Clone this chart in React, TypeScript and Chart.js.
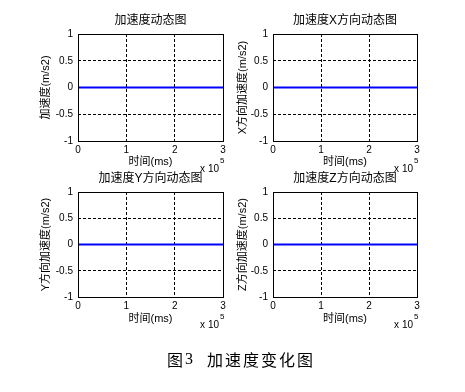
import React, { useEffect, useRef } from 'react';
import { Chart, registerables } from 'chart.js';

Chart.register(...registerables);

// ---- data ----
const timeMs = [0, 50000, 100000, 150000, 200000, 250000, 300000];
const accTotal = [0, 0, 0, 0, 0, 0, 0];
const accX = [0, 0, 0, 0, 0, 0, 0];
const accY = [0, 0, 0, 0, 0, 0, 0];
const accZ = [0, 0, 0, 0, 0, 0, 0];
const xTickLabels = ['0', '1', '2', '3'];
const yTickLabels = ['-1', '-0.5', '0', '0.5', '1'];
const subplotTitles = ['加速度动态图', '加速度X方向动态图', '加速度Y方向动态图', '加速度Z方向动态图'];
const yAxisTitles = ['加速度(m/s2)', 'X方向加速度(m/s2)', 'Y方向加速度(m/s2)', 'Z方向加速度(m/s2)'];
const xAxisTitle = '时间(ms)';
const xExponentBase = 'x 10';
const xExponent = '5';
const captionLead = '图';
const captionNum = '3';
const captionText = '加速度变化图';

const FONT = '"Liberation Sans", Arial, "Noto Sans CJK SC", sans-serif';
const CJK = '"Noto Sans CJK SC", sans-serif';

const W = 240;
const H = 180;

const overlayPlugin = {
  id: 'matlabOverlay',
  afterDraw(chart: any, _args: any, opts: any) {
    const { ctx, chartArea: a } = chart;
    ctx.save();
    ctx.setLineDash([]);
    ctx.strokeStyle = '#000';
    ctx.lineWidth = 1;
    ctx.strokeRect(a.left + 0.5, a.top + 0.5, a.right - a.left, a.bottom - a.top);
    ctx.fillStyle = '#000';
    ctx.font = `12px ${FONT}`;
    ctx.textAlign = 'center';
    ctx.textBaseline = 'middle';
    ctx.fillText(opts.title, (a.left + a.right) / 2, 21);
    ctx.font = `10px ${FONT}`;
    ctx.textAlign = 'right';
    ctx.fillText(xExponentBase, a.right - 4, a.bottom + 28);
    ctx.font = `8px ${FONT}`;
    ctx.textAlign = 'left';
    ctx.fillText(xExponent, a.right - 3, a.bottom + 20);
    ctx.restore();
  },
};

type PanelProps = {
  left: number;
  top: number;
  title: string;
  yTitle: string;
  values: number[];
  plotRight: number;
  plotBottom: number;
  yTitleX: number;
  xTitleY: number;
};

function Panel(p: PanelProps) {
  const ref = useRef<HTMLCanvasElement>(null);
  useEffect(() => {
    if (!ref.current) return;
    const zeroPad = (s: any) => {
      s.paddingLeft = 0;
      s.paddingRight = 0;
      s.paddingTop = 0;
      s.paddingBottom = 0;
    };
    const chart = new Chart(ref.current, {
      type: 'line',
      data: {
        datasets: [
          {
            data: timeMs.map((t, i) => ({ x: t, y: p.values[i] })),
            borderColor: '#0000ff',
            borderWidth: 2,
            pointRadius: 0,
            fill: false,
            tension: 0,
          },
        ],
      },
      plugins: [overlayPlugin],
      options: {
        responsive: false,
        animation: false,
        events: [],
        devicePixelRatio: 1,
        layout: { padding: { top: 34, right: W - p.plotRight, bottom: 0, left: 0 } },
        plugins: {
          legend: { display: false },
          tooltip: { enabled: false },
          title: { display: false },
          matlabOverlay: { title: p.title },
        } as any,
        scales: {
          x: {
            type: 'linear',
            min: 0,
            max: 300000,
            ticks: {
              stepSize: 100000,
              padding: 3,
              color: '#000',
              font: { family: FONT, size: 10 },
              maxRotation: 0,
              callback: (_v: any, i: number) => xTickLabels[i],
            },
            grid: { color: '#000', lineWidth: 1, drawTicks: false },
            border: { display: false, dash: [3, 2] },
            title: {
              display: true,
              text: xAxisTitle,
              color: '#000',
              font: { family: FONT, size: 11 },
              padding: { top: 0, bottom: H - p.xTitleY - 6.6 },
            },
            afterFit: (s: any) => {
              s.height = H - p.plotBottom;
              zeroPad(s);
            },
          },
          y: {
            type: 'linear',
            min: -1,
            max: 1,
            ticks: {
              stepSize: 0.5,
              padding: 5,
              color: '#000',
              font: { family: FONT, size: 10 },
              callback: (_v: any, i: number) => yTickLabels[i],
            },
            grid: { color: '#000', lineWidth: 1, drawTicks: false },
            border: { display: false, dash: [3, 2] },
            title: {
              display: true,
              text: p.yTitle,
              color: '#000',
              font: { family: FONT, size: 11 },
              padding: { top: p.yTitleX - 6.6, bottom: 0 },
            },
            afterFit: (s: any) => {
              s.width = 78;
              zeroPad(s);
            },
          },
        },
      } as any,
    });
    return () => chart.destroy();
  }, []);
  return (
    <canvas
      ref={ref}
      width={W}
      height={H}
      style={{ position: 'absolute', left: p.left, top: p.top, width: W, height: H }}
    />
  );
}

export default function App() {
  return (
    <div
      style={{
        position: 'absolute',
        left: 0,
        top: 0,
        width: 465,
        height: 392,
        background: '#fff',
        overflow: 'hidden',
      }}
    >
      <Panel left={0} top={0} title={subplotTitles[0]} yTitle={yAxisTitles[0]} values={accTotal}
        plotRight={223} plotBottom={141} yTitleX={46} xTitleY={162} />
      <Panel left={195} top={0} title={subplotTitles[1]} yTitle={yAxisTitles[1]} values={accX}
        plotRight={222} plotBottom={141} yTitleX={47.5} xTitleY={162} />
      <Panel left={0} top={158} title={subplotTitles[2]} yTitle={yAxisTitles[2]} values={accY}
        plotRight={223} plotBottom={139} yTitleX={46} xTitleY={161} />
      <Panel left={195} top={158} title={subplotTitles[3]} yTitle={yAxisTitles[3]} values={accZ}
        plotRight={222} plotBottom={139} yTitleX={48} xTitleY={161} />
      <span style={{ position: 'absolute', left: 167, top: 351, fontSize: 16, lineHeight: '16px', fontFamily: CJK, color: '#000' }}>
        {captionLead}
      </span>
      <span style={{ position: 'absolute', left: 185, top: 351, fontSize: 16, lineHeight: '16px', fontFamily: '"Liberation Serif", serif', color: '#000' }}>
        {captionNum}
      </span>
      <span style={{ position: 'absolute', left: 207, top: 351, fontSize: 16, lineHeight: '16px', letterSpacing: 2, fontFamily: CJK, color: '#000', whiteSpace: 'nowrap' }}>
        {captionText}
      </span>
    </div>
  );
}
